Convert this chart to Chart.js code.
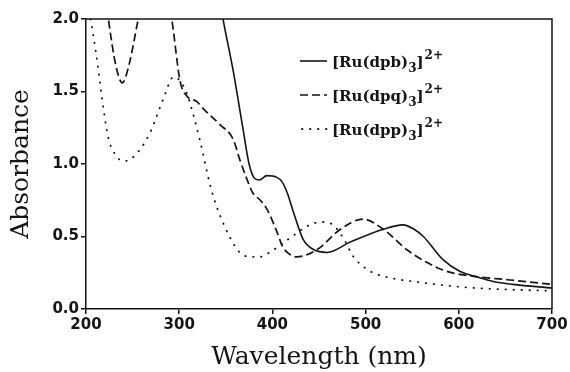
<!DOCTYPE html>
<html><head><meta charset="utf-8">
<script src="https://cdn.jsdelivr.net/npm/chart.js@4"></script>
<style>html,body{margin:0;padding:0;background:#fff}canvas{display:block}</style>
</head><body>
<canvas id="c" width="570" height="372"></canvas>
<script>
// Wavelength (nm) and absorbance
const dpbNm  = [335, 347, 358, 368, 375, 381, 386, 394, 404, 410, 416, 422, 433, 444, 459, 483, 519, 540, 552, 562, 583, 601, 620, 637, 658, 700];
const dpbAbs = [2.45, 2.0, 1.64, 1.26, 1.0, 0.90, 0.89, 0.92, 0.91, 0.88, 0.80, 0.68, 0.48, 0.41, 0.39, 0.46, 0.55, 0.58, 0.55, 0.50, 0.34, 0.26, 0.22, 0.19, 0.17, 0.145];

const dpqNm  = [216, 224, 232, 239, 246, 256, 274, 292, 301, 308, 319, 326, 344, 358, 365, 373, 379, 387, 394, 405, 411, 418, 426, 448, 473, 497, 519, 544, 566, 587, 605, 655, 700];
const dpqAbs = [2.4, 2.0, 1.68, 1.56, 1.68, 2.0, 2.6, 2.0, 1.57, 1.47, 1.43, 1.38, 1.27, 1.17, 1.03, 0.89, 0.80, 0.75, 0.69, 0.53, 0.43, 0.38, 0.36, 0.41, 0.55, 0.62, 0.55, 0.41, 0.32, 0.26, 0.235, 0.20, 0.17];

const dppNm  = [205, 212, 217, 224, 232, 240, 247, 258, 269, 283, 294, 300, 308, 322, 333, 340, 354, 365, 376, 387, 397, 419, 440, 453, 465, 476, 487, 498, 508, 530, 551, 605, 650, 700];
const dppAbs = [2.0, 1.71, 1.46, 1.18, 1.06, 1.02, 1.03, 1.10, 1.22, 1.45, 1.60, 1.58, 1.49, 1.17, 0.86, 0.71, 0.50, 0.39, 0.36, 0.36, 0.39, 0.49, 0.58, 0.60, 0.58, 0.49, 0.36, 0.29, 0.25, 0.21, 0.19, 0.15, 0.135, 0.125];

const xTicks = [200, 300, 400, 500, 600, 700];
const yTicks = [0.0, 0.5, 1.0, 1.5, 2.0];

const legendItems = [
  {base: '[Ru(dpb)', dash: [], width: 1.6, cap: 'butt'},
  {base: '[Ru(dpq)', dash: [8, 4], width: 1.7, cap: 'butt'},
  {base: '[Ru(dpp)', dash: [0.5, 7.5], width: 1.8, cap: 'round'}
];

const pts = (xs, ys) => xs.map((x, i) => ({x: x, y: ys[i]}));
const ink = '#151515';

const framePlugin = {
  id: 'frame',
  afterDatasetsDraw(chart) {
    const {ctx, chartArea: a} = chart;
    ctx.save();
    ctx.strokeStyle = ink;
    ctx.lineWidth = 1.5;
    ctx.beginPath();
    ctx.moveTo(a.left, a.top); ctx.lineTo(a.right, a.top); ctx.lineTo(a.right, a.bottom);
    ctx.stroke();
    // legend
    const x0 = a.left + 214, x1 = x0 + 27, tx = x1 + 5;
    const rows = [61, 95, 129];
    legendItems.forEach((it, i) => {
      const y = rows[i];
      ctx.setLineDash(it.dash);
      ctx.lineCap = it.cap;
      ctx.lineWidth = it.width;
      ctx.beginPath(); ctx.moveTo(x0 + (it.cap === 'round' ? 2 : 0), y); ctx.lineTo(x1, y); ctx.stroke();
      ctx.setLineDash([]);
      ctx.fillStyle = ink;
      ctx.textBaseline = 'alphabetic';
      ctx.textAlign = 'left';
      const base = y + 6;
      ctx.font = 'bold 15px "DejaVu Serif"';
      ctx.fillText(it.base, tx, base);
      let cx = tx + ctx.measureText(it.base).width;
      ctx.font = 'bold 12px "DejaVu Serif"';
      ctx.fillText('3', cx, base + 5);
      cx += ctx.measureText('3').width;
      ctx.font = 'bold 15px "DejaVu Serif"';
      ctx.fillText(']', cx, base);
      cx += ctx.measureText(']').width + 1;
      ctx.font = 'bold 12px "DejaVu Serif"';
      ctx.fillText('2+', cx, base - 8);
    });
    ctx.restore();
  }
};

new Chart(document.getElementById('c'), {
  type: 'line',
  data: {
    datasets: [
      {label: 'dpb', data: pts(dpbNm, dpbAbs), borderColor: ink, borderWidth: 1.6, pointRadius: 0, cubicInterpolationMode: 'monotone', fill: false},
      {label: 'dpq', data: pts(dpqNm, dpqAbs), borderColor: ink, borderWidth: 1.7, borderDash: [8, 4], pointRadius: 0, cubicInterpolationMode: 'monotone', fill: false},
      {label: 'dpp', data: pts(dppNm, dppAbs), borderColor: ink, borderWidth: 1.8, borderDash: [0.5, 7.5], borderCapStyle: 'round', pointRadius: 0, cubicInterpolationMode: 'monotone', fill: false}
    ]
  },
  options: {
    responsive: false,
    devicePixelRatio: 1,
    animation: false,
    layout: {padding: {top: 19, right: 18, left: 0, bottom: 0}},
    plugins: {legend: {display: false}, tooltip: {enabled: false}},
    scales: {
      x: {
        type: 'linear', min: 200, max: 700,
        afterBuildTicks: s => { s.ticks = xTicks.map(v => ({value: v})); },
        afterFit: s => { s.height = 63; },
        ticks: {color: ink, font: {family: '"DejaVu Sans"', size: 15, weight: 'bold'}, padding: 2, maxRotation: 0},
        grid: {display: true, drawOnChartArea: false, tickLength: 5, color: ink, lineWidth: 1.5},
        border: {display: true, color: ink, width: 1.5},
        title: {display: true, text: 'Wavelength (nm)', color: ink, font: {family: '"DejaVu Serif"', size: 25}, padding: {top: 0, bottom: 0}}
      },
      y: {
        min: 0, max: 2,
        afterBuildTicks: s => { s.ticks = yTicks.map(v => ({value: v})); },
        afterFit: s => { s.width = 86; },
        ticks: {color: ink, font: {family: '"DejaVu Sans"', size: 15, weight: 'bold'}, padding: 2, callback: v => Number(v).toFixed(1)},
        grid: {display: true, drawOnChartArea: false, tickLength: 5, color: ink, lineWidth: 1.5},
        border: {display: true, color: ink, width: 1.5},
        title: {display: true, text: 'Absorbance', color: ink, font: {family: '"DejaVu Serif"', size: 25}, padding: {top: 6, bottom: 0}}
      }
    }
  },
  plugins: [framePlugin]
});
</script>
</body></html>
